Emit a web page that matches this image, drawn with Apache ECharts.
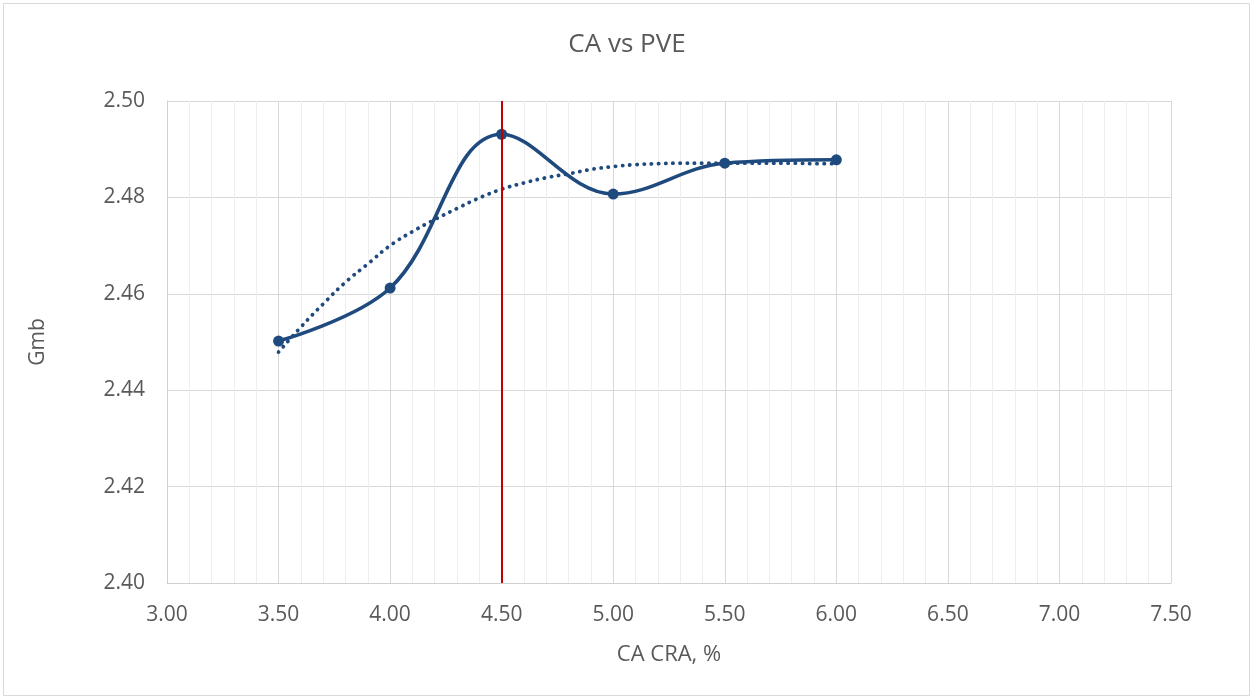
<!DOCTYPE html>
<html>
<head>
<meta charset="utf-8">
<script src="https://cdn.jsdelivr.net/npm/echarts@6/dist/echarts.min.js"></script>
<style>
  html, body { margin: 0; padding: 0; background: #fff; }
  #chart { width: 1254px; height: 700px; }
</style>
</head>
<body>
<div id="chart"></div>
<script>
// CA content (%) against bulk specific gravity
const caContent = [3.5, 4.0, 4.5, 5.0, 5.5, 6.0];
const gmbValues = [2.4502, 2.4612, 2.4931, 2.4807, 2.4871, 2.4878];

// Trend curve, read at 0.1 % steps
const trendX = [3.5, 3.6, 3.7, 3.8, 3.9, 4.0, 4.1, 4.2, 4.3, 4.4, 4.5, 4.6, 4.7, 4.8, 4.9,
                5.0, 5.1, 5.2, 5.3, 5.4, 5.5, 5.6, 5.7, 5.8, 5.9, 6.0];
const trendY = [2.4479, 2.4531, 2.4579, 2.4624, 2.4662, 2.4700, 2.4729, 2.4754, 2.4777, 2.4799,
                2.4817, 2.4830, 2.4841, 2.4849, 2.4858, 2.4864, 2.4868, 2.4870, 2.4871, 2.4871,
                2.4871, 2.4871, 2.4871, 2.4871, 2.4870, 2.4870];

// Optimum CA content marker
const optimumCA = 4.5;

const xTicks = { min: 3.0, max: 7.5, interval: 0.5 };
const yTicks = { min: 2.40, max: 2.50, interval: 0.02 };

const lineColor = '#1F4A7E';
const textColor = '#595959';
const fontFamily = '"Open Sans", "Noto Sans", sans-serif';

const chart = echarts.init(document.getElementById('chart'), null, { renderer: 'canvas' });

chart.setOption({
  animation: false,
  backgroundColor: '#ffffff',
  title: {
    text: 'CA vs PVE',
    left: 'center',
    top: 27,
    textStyle: { color: textColor, fontSize: 26, fontWeight: 'normal', fontFamily }
  },
  graphic: [{
    type: 'rect',
    shape: { x: 3.5, y: 3.5, width: 1246, height: 692 },
    style: { fill: 'none', stroke: '#d9d9d9', lineWidth: 1 },
    silent: true
  }],
  grid: { left: 167, right: 83, top: 101, bottom: 117, containLabel: false },
  xAxis: {
    type: 'value',
    min: xTicks.min, max: xTicks.max, interval: xTicks.interval,
    name: 'CA CRA, %',
    nameLocation: 'middle',
    nameGap: 61,
    nameTextStyle: { color: textColor, fontSize: 22, fontFamily },
    axisLine: { show: true, lineStyle: { color: '#d0d0d0', width: 1 } },
    axisTick: { show: false },
    axisLabel: {
      color: textColor, fontSize: 21, fontFamily, margin: 22,
      formatter: v => v.toFixed(2)
    },
    splitLine: { show: true, lineStyle: { color: '#d9d9d9', width: 1 } },
    minorTick: { show: false, splitNumber: 5 },
    minorSplitLine: { show: true, lineStyle: { color: '#eeeeee', width: 1 } }
  },
  yAxis: {
    type: 'value',
    min: yTicks.min, max: yTicks.max, interval: yTicks.interval,
    name: 'Gmb',
    nameLocation: 'middle',
    nameGap: 118,
    nameRotate: 90,
    nameTextStyle: { color: textColor, fontSize: 21, fontFamily },
    axisLine: { show: true, lineStyle: { color: '#d0d0d0', width: 1 } },
    axisTick: { show: false },
    axisLabel: {
      color: textColor, fontSize: 21, fontFamily, margin: 22,
      formatter: v => v.toFixed(2)
    },
    splitLine: { show: true, lineStyle: { color: '#d9d9d9', width: 1 } }
  },
  series: [
    {
      name: 'Trend',
      type: 'line',
      data: trendX.map((x, i) => [x, trendY[i]]),
      smooth: 0.5,
      showSymbol: false,
      silent: true,
      z: 2,
      lineStyle: { color: lineColor, width: 3.8, type: [0.2, 7], cap: 'round' }
    },
    {
      name: 'Gmb',
      type: 'line',
      data: caContent.map((x, i) => [x, gmbValues[i]]),
      smooth: 0.38,
      symbol: 'circle',
      symbolSize: 11,
      z: 3,
      lineStyle: { color: lineColor, width: 3.6 },
      itemStyle: { color: lineColor },
      markLine: {
        silent: true,
        symbol: 'none',
        label: { show: false },
        lineStyle: { color: '#C00000', width: 2, type: 'solid' },
        data: [{ xAxis: optimumCA }]
      }
    }
  ]
});
</script>
</body>
</html>
